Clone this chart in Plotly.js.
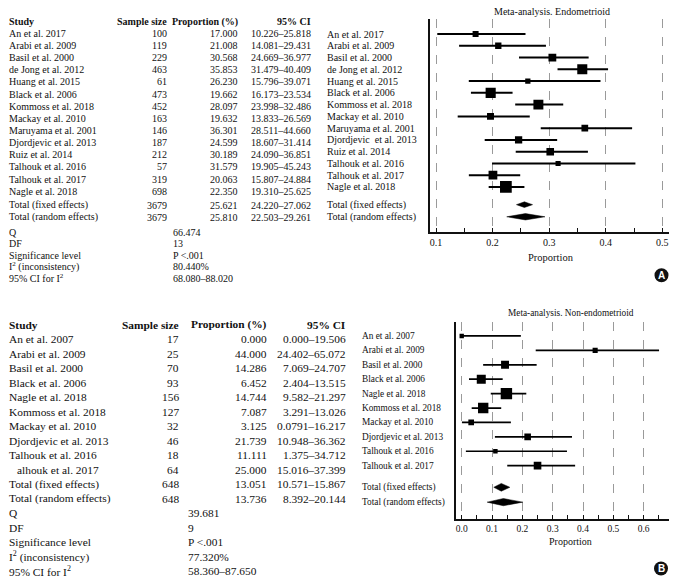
<!DOCTYPE html>
<html>
<head>
<meta charset="utf-8">
<script src="https://cdn.plot.ly/plotly-3.0.1.min.js"></script>
<style>html,body{margin:0;padding:0;background:#fff;}#chart{width:686px;height:582px;}</style>
</head>
<body>
<div id="chart"></div>
<script>
// ---------- Panel A: Endometrioid ----------
const studiesA = ["An et al. 2017","Arabi et al. 2009","Basil et al. 2000","de Jong et al. 2012","Huang et al. 2015","Black et al. 2006","Kommoss et al. 2018","Mackay et al. 2010","Maruyama et al. 2001","Djordjevic et al. 2013","Ruiz et al. 2014","Talhouk et al. 2016","Talhouk et al. 2017","Nagle et al. 2018"];
const plotLabelsA = ["An et al. 2017","Arabi et al. 2009","Basil et al. 2000","de Jong et al. 2012","Huang et al. 2015","Black et al. 2006","Kommoss et al. 2018","Mackay et al. 2010","Maruyama et al. 2001","Djordjevic&nbsp; et al. 2013","Ruiz et al. 2014","Talhouk et al. 2016","Talhouk et al. 2017","Nagle et al. 2018"];
const nA = [100,119,229,463,61,473,452,163,146,187,212,57,319,698];
const propA = [17.000,21.008,30.568,35.853,26.230,19.662,28.097,19.632,36.301,24.599,30.189,31.579,20.063,22.350];
const loA = [10.226,14.081,24.669,31.479,15.796,16.173,23.998,13.833,28.511,18.607,24.090,19.905,15.807,19.310];
const hiA = [25.818,29.431,36.977,40.409,39.071,23.534,32.486,26.569,44.660,31.414,36.851,45.243,24.884,25.625];
const totalLabels = ["Total (fixed effects)","Total (random effects)"];
const totNA = [3679,3679];
const totPropA = [25.621,25.810];
const totLoA = [24.220,22.503];
const totHiA = [27.062,29.261];
const statNames = ["Q","DF","Significance level","I<sup>2</sup> (inconsistency)","95% CI for I<sup>2</sup>"];
const statValsA = ["66.474","13","P &lt;.001","80.440%","68.080–88.020"];
const ticksA = [0.1,0.2,0.3,0.4,0.5];

// ---------- Panel B: Non-endometrioid ----------
const studiesB = ["An et al. 2007","Arabi et al. 2009","Basil et al. 2000","Black et al. 2006","Nagle et al. 2018","Kommoss et al. 2018","Mackay et al. 2010","Djordjevic et al. 2013","Talhouk et al. 2016","alhouk et al. 2017"];
const plotLabelsB = ["An et al. 2007","Arabi et al. 2009","Basil et al. 2000","Black et al. 2006","Nagle et al. 2018","Kommoss et al. 2018","Mackay et al. 2010","Djordjevic et al. 2013","Talhouk et al. 2016","Talhouk et al. 2017"];
const nB = [17,25,70,93,156,127,32,46,18,64];
const propB = [0.000,44.000,14.286,6.452,14.744,7.087,3.125,21.739,11.111,25.000];
const loB = [0.000,24.402,7.069,2.404,9.582,3.291,0.0791,10.948,1.375,15.016];
const hiB = [19.506,65.072,24.707,13.515,21.297,13.026,16.217,36.362,34.712,37.399];
const totNB = [648,648];
const totPropB = [13.051,13.736];
const totLoB = [10.571,8.392];
const totHiB = [15.867,20.144];
const statValsB = ["39.681","9","P &lt;.001","77.320%","58.360–87.650"];
const ticksB = [0.0,0.1,0.2,0.3,0.4,0.5,0.6];
const headers = ["Study","Sample size","Proportion (%)","95% CI"];

// ---------- helpers ----------
const W = 686, H = 582;
const FONT = "Liberation Serif, Times New Roman, serif";
const TXT = "#111";
const px = x => x / W;
const py = y => 1 - y / H;
const fmt3 = v => v.toFixed(3);
const fmtCI = (a, b) => (a === 0.0791 ? "0.0791" : fmt3(a)) + "–" + fmt3(b);

const annotations = [];
const shapes = [];
function txt(x, y, text, anchor, size, bold, ref) {
  annotations.push({
    xref: 'paper', yref: ref ? ref : 'paper',
    x: px(x), y: ref ? y : py(y),
    xanchor: anchor, yanchor: 'middle',
    text: bold ? '<b>' + text + '</b>' : text,
    showarrow: false, borderpad: 0,
    font: {family: FONT, size: size, color: TXT}
  });
}

function buildTable(cfg) {
  const f = cfg.font;
  headers.forEach((h, k) => txt(cfg.cols[k], cfg.headerY, h, k === 0 ? 'left' : 'right', f, true));
  cfg.studies.forEach((s, i) => {
    const y = cfg.rowY(i);
    txt(cfg.cols[0] + (cfg.indent && cfg.indent[i] ? cfg.indent[i] : 0), y, s, 'left', f);
    txt(cfg.cols[1], y, String(cfg.n[i]), 'right', f);
    txt(cfg.cols[2], y, fmt3(cfg.prop[i]), 'right', f);
    txt(cfg.cols[3], y, fmtCI(cfg.lo[i], cfg.hi[i]), 'right', f);
  });
  totalLabels.forEach((s, j) => {
    const y = cfg.totY(j);
    txt(cfg.cols[0], y, s, 'left', f);
    txt(cfg.cols[1], y, String(cfg.totN[j]), 'right', f);
    txt(cfg.cols[2], y, fmt3(cfg.totProp[j]), 'right', f);
    txt(cfg.cols[3], y, fmtCI(cfg.totLo[j], cfg.totHi[j]), 'right', f);
  });
  statNames.forEach((s, k) => {
    const y = cfg.statY(k);
    txt(cfg.cols[0], y, s, 'left', f);
    txt(cfg.statX, y, cfg.statVals[k], 'left', f);
  });
}

buildTable({
  font: 10, headerY: 22, cols: [8, 168, 239, 312], statX: 172,
  studies: studiesA, n: nA, prop: propA, lo: loA, hi: hiA,
  totN: totNA, totProp: totPropA, totLo: totLoA, totHi: totHiA, statVals: statValsA,
  rowY: i => 33.3 + 12.15 * i, totY: j => 205 + 12 * j, statY: k => 232 + 11.5 * k
});
buildTable({
  font: 11.4, headerY: 324.5, cols: [8, 180, 268, 347], statX: 187,
  studies: studiesB, n: nB, prop: propB, lo: loB, hi: hiB, indent: {9: 8},
  totN: totNB, totProp: totPropB, totLo: totLoB, totHi: totHiB, statVals: statValsB,
  rowY: i => 339 + 14.5 * i, totY: j => 339 + 14.5 * (10 + j), statY: k => 339 + 14.5 * (12 + k)
});

// ---------- forest plots ----------
const traces = [];
function forest(cfg) {
  const k = cfg.prop.length;
  const rows = cfg.prop.map((_, i) => i);
  const totRows = [k - 1 + 1.5, k - 1 + 2.53];
  // CI lines
  const lx = [], ly = [];
  rows.forEach(i => { lx.push(cfg.lo[i] / 100, cfg.hi[i] / 100, null); ly.push(i, i, null); });
  traces.push({type: 'scatter', mode: 'lines', x: lx, y: ly, xaxis: cfg.xa, yaxis: cfg.ya,
    line: {color: '#000', width: cfg.lw}, hoverinfo: 'skip', showlegend: false});
  // squares (size grows with sample size)
  traces.push({type: 'scatter', mode: 'markers', x: cfg.prop.map(v => v / 100), y: rows,
    xaxis: cfg.xa, yaxis: cfg.ya, showlegend: false,
    marker: {symbol: 'square', color: '#000', opacity: 1, size: cfg.n.map(cfg.sizeFn), line: {width: 0}}});
  // diamonds
  totRows.forEach((r, j) => {
    const h = cfg.dh[j];
    const e = cfg.totProp[j] / 100, a = cfg.totLo[j] / 100, b = cfg.totHi[j] / 100;
    traces.push({type: 'scatter', mode: 'lines', fill: 'toself', fillcolor: '#000',
      x: [a, e, b, e, a], y: [r, r - h, r, r + h, r], xaxis: cfg.xa, yaxis: cfg.ya,
      line: {color: '#000', width: 0.5}, showlegend: false, hoverinfo: 'skip'});
  });
  // row labels
  cfg.labels.forEach((s, i) => txt(cfg.labelX, rows[i], s, 'left', cfg.lf, false, cfg.ya));
  totalLabels.forEach((s, j) => txt(cfg.labelX, totRows[j], s, 'left', cfg.lf, false, cfg.ya));
}

forest({xa: 'x', ya: 'y', prop: propA, lo: loA, hi: hiA, n: nA, labels: plotLabelsA,
  totProp: totPropA, totLo: totLoA, totHi: totHiA, lw: 2, labelX: 326, lf: 10,
  sizeFn: n => 2.5 + 0.35 * Math.sqrt(n), dh: [0.24, 0.27]});
forest({xa: 'x2', ya: 'y2', prop: propB, lo: loB, hi: hiB, n: nB, labels: plotLabelsB,
  totProp: totPropB, totLo: totLoB, totHi: totHiB, lw: 1.7, labelX: 361, lf: 9.3,
  sizeFn: n => 0.9 + 0.84 * Math.sqrt(n), dh: [0.27, 0.25]});

// titles, axis titles
txt(551.5, 11, "Meta-analysis. Endometrioid", 'center', 10);
txt(551, 257, "Proportion", 'center', 10.5);
txt(570.5, 313, "Meta-analysis. Non-endometrioid", 'center', 9.3);
txt(570, 541, "Proportion", 'center', 10);

// badges
[["A", 661.5, 275.3], ["B", 661, 568.5]].forEach(([t, cx, cy]) => {
  const r = 7;
  shapes.push({type: 'circle', xref: 'paper', yref: 'paper', x0: px(cx - r), x1: px(cx + r),
    y0: py(cy + r), y1: py(cy - r), fillcolor: '#111', line: {width: 0}});
  annotations.push({xref: 'paper', yref: 'paper', x: px(cx), y: py(cy), xanchor: 'center', yanchor: 'middle',
    text: '<b>' + t + '</b>', showarrow: false, font: {family: 'Liberation Sans, Arial', size: 10, color: '#fff'}});
});

function xax(domain, range, ticks, fs) {
  return {domain: domain, range: range, tickvals: ticks, ticktext: ticks.map(v => v.toFixed(1)),
    showgrid: true, gridcolor: '#9a9a9a', griddash: 'dash', gridwidth: 1,
    showline: true, linecolor: '#111', linewidth: 2, zeroline: false,
    ticks: 'inside', ticklen: 4, tickcolor: '#111', tickwidth: 1,
    minor: {dtick: 0.05, tick0: 0, ticks: 'inside', ticklen: 4, tickcolor: '#111', showgrid: false},
    tickfont: {family: FONT, size: fs, color: TXT}, fixedrange: true};
}
function yax(domain, range, anchor) {
  return {domain: domain, range: range, anchor: anchor, showgrid: false, zeroline: false,
    showticklabels: false, ticks: '', showline: true, linecolor: '#111', linewidth: 2, fixedrange: true};
}

const layout = {
  width: W, height: H, margin: {l: 0, r: 0, t: 0, b: 0},
  paper_bgcolor: '#fff', plot_bgcolor: '#fff', showlegend: false,
  xaxis: Object.assign(xax([px(430), px(669)], [0.0894, 0.5118], ticksA, 10), {anchor: 'y'}),
  yaxis: yax([py(232.3), py(19.3)], [16.85, -1.25], 'x'),
  xaxis2: Object.assign(xax([px(455.7), px(669)], [-0.0198, 0.6835], ticksB, 9.5), {anchor: 'y2'}),
  yaxis2: yax([py(519), py(321.7)], [12.70, -0.99], 'x2'),
  annotations: annotations, shapes: shapes
};

Plotly.newPlot('chart', traces, layout, {staticPlot: true, displayModeBar: false});
</script>
</body>
</html>
